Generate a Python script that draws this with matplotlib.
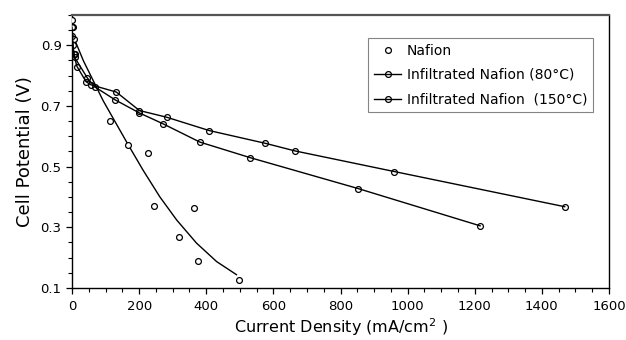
import matplotlib
matplotlib.use("Agg")
import matplotlib.pyplot as plt
from matplotlib.ticker import MultipleLocator

# Data
nafion_x = [0, 2, 5, 10, 113, 166, 227, 244, 318, 364, 374, 499]
nafion_y = [0.985, 0.96, 0.92, 0.87, 0.652, 0.573, 0.545, 0.371, 0.268, 0.364, 0.188, 0.125]

# fitted curve through Nafion data
nafion_fit_x = [0, 34, 93, 166, 212, 262, 312, 371, 431, 490]
nafion_fit_y = [0.94, 0.849, 0.717, 0.575, 0.488, 0.400, 0.324, 0.248, 0.187, 0.144]

inf80_x = [0, 3, 8, 46, 68, 129, 201, 270, 381, 530, 852, 1216]
inf80_y = [0.96, 0.90, 0.86, 0.792, 0.763, 0.720, 0.677, 0.642, 0.581, 0.530, 0.428, 0.305]

inf150_x = [0, 5, 15, 42, 56, 132, 201, 282, 409, 576, 664, 960, 1468]
inf150_y = [0.93, 0.87, 0.83, 0.78, 0.77, 0.746, 0.685, 0.663, 0.619, 0.577, 0.552, 0.484, 0.368]

labels = ["Nafion", "Infiltrated Nafion (80\u00b0C)", "Infiltrated Nafion  (150\u00b0C)"]
x_ticks = [0, 200, 400, 600, 800, 1000, 1200, 1400, 1600]
y_ticks = [0.1, 0.3, 0.5, 0.7, 0.9]

plt.rcParams['font.family'] = ['DejaVu Sans']

fig = plt.figure(figsize=(6.26, 3.40), dpi=100)
ax = fig.add_axes([72/626, 1-288/340, (609-72)/626, (288-15)/340])

ms = 4.2
ax.plot(nafion_fit_x, nafion_fit_y, color='black', lw=1.0, zorder=2)
ax.plot(nafion_x, nafion_y, linestyle='none', marker='o', ms=ms, mfc='white',
        mec='black', mew=0.9, label=labels[0], zorder=3)
ax.plot(inf80_x, inf80_y, color='black', lw=1.0, marker='o', ms=ms, mfc='none',
        mec='black', mew=0.9, label=labels[1], zorder=3)
ax.plot(inf150_x, inf150_y, color='black', lw=1.0, marker='o', ms=ms, mfc='none',
        mec='black', mew=0.9, label=labels[2], zorder=3)

ax.set_xlim(0, 1600)
ax.set_ylim(0.1, 1.0)
ax.set_xticks(x_ticks)
ax.set_yticks(y_ticks)
ax.set_yticklabels([f"{v:.1f}" for v in y_ticks])
ax.xaxis.set_minor_locator(MultipleLocator(50))
ax.yaxis.set_minor_locator(MultipleLocator(0.05))
ax.tick_params(axis='both', which='major', direction='out', length=4, width=0.9,
               labelsize=9.5, colors='black')
ax.tick_params(axis='both', which='minor', direction='out', length=3, width=0.8)
ax.tick_params(axis='x', pad=5)

for s in ['left', 'bottom', 'right']:
    ax.spines[s].set_color('black')
    ax.spines[s].set_linewidth(1.0)
ax.spines['top'].set_color('#555555')
ax.spines['top'].set_linewidth(1.6)

ax.set_xlabel("Current Density (mA/cm$^2$ )", fontsize=11.5, labelpad=2)
ax.set_ylabel("Cell Potential (V)", fontsize=13, labelpad=5)

leg = ax.legend(loc='upper right', bbox_to_anchor=(593/626, 1-38/340),
                bbox_transform=fig.transFigure, frameon=True, fancybox=False,
                fontsize=10, handlelength=2.0, handletextpad=0.4,
                borderpad=0.4, labelspacing=0.75, borderaxespad=0)
leg.get_frame().set_edgecolor('#666666')
leg.get_frame().set_linewidth(0.8)

fig.savefig("out.png", dpi=100)
